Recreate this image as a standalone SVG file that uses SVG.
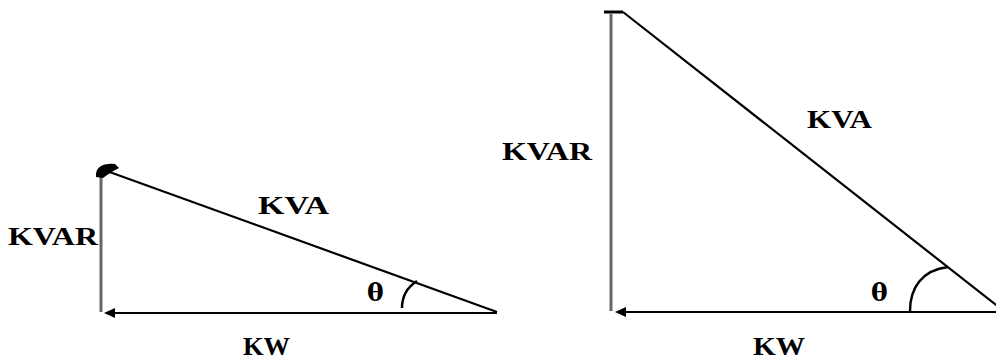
<svg xmlns="http://www.w3.org/2000/svg" width="996" height="360" viewBox="0 0 996 360">
<defs>
<style>
.lbl{font-family:"Liberation Serif","Times New Roman",serif;font-weight:bold;font-size:26px;fill:#000}
.th{font-family:"DejaVu Serif","Liberation Serif",serif;font-weight:bold;font-size:25px;fill:#000}
.ln{stroke:#000;stroke-width:2.2;fill:none}
.vt{stroke:#666;stroke-width:3;fill:none}
.arc{stroke:#000;stroke-width:2.5;fill:none}
.head{fill:#000}
</style>
</defs>
<rect width="996" height="360" fill="#fff"/>
<g id="connectors">
<line class="vt" x1="101" y1="174" x2="101" y2="312"/>
<path class="head" d="M96,177 C95,167 103,163 115,164 L119,168 C113,171 108,174 103,178 Z"/>
<line class="ln" x1="104" y1="170" x2="497" y2="312"/>
<line class="ln" x1="497" y1="313" x2="112" y2="313"/>
<path class="head" d="M104,313 L115,308 L115,318 Z"/>
<path class="arc" d="M402,308 C402,298 406,288 417,281"/>
<line class="vt" x1="611" y1="14" x2="611" y2="311"/>
<line x1="604" y1="12" x2="623" y2="12" stroke="#000" stroke-width="3"/>
<line class="ln" x1="623" y1="12" x2="1005" y2="312"/>
<line class="ln" x1="996" y1="312" x2="624" y2="312"/>
<path class="head" d="M615,312 L626,307 L626,317 Z"/>
<path class="arc" d="M910,311 C910,288 922,270 948,267"/>
</g>
<g id="left-triangle">
<text class="lbl" x="8" y="245" textLength="90" lengthAdjust="spacingAndGlyphs">KVAR</text>
<text class="lbl" x="258" y="214" textLength="71" lengthAdjust="spacingAndGlyphs">KVA</text>
<text class="lbl" x="243" y="355" textLength="47" lengthAdjust="spacingAndGlyphs">KW</text>
<text class="th" x="367" y="301">θ</text>
</g>
<g id="right-triangle">
<text class="lbl" x="502" y="160" textLength="90" lengthAdjust="spacingAndGlyphs">KVAR</text>
<text class="lbl" x="807" y="128" textLength="65" lengthAdjust="spacingAndGlyphs">KVA</text>
<text class="lbl" x="753" y="355" textLength="52" lengthAdjust="spacingAndGlyphs">KW</text>
<text class="th" x="871" y="301">θ</text>
</g>
</svg>
